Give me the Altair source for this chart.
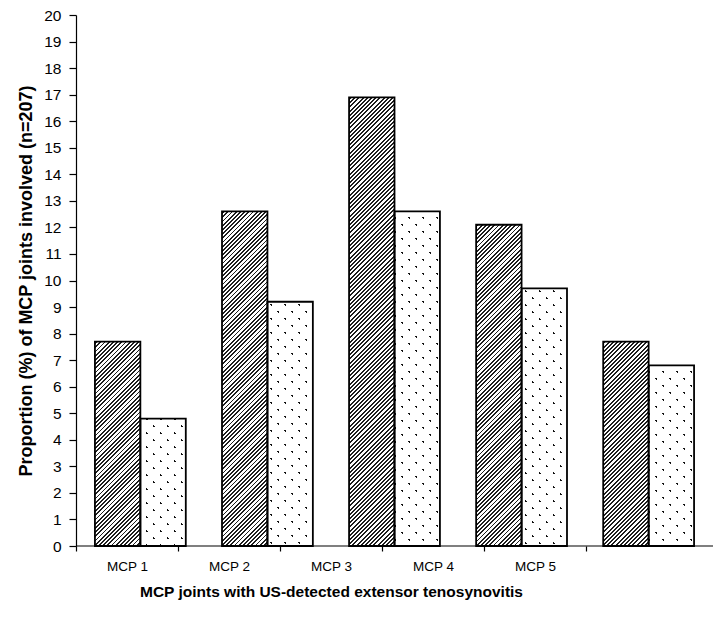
import altair as alt

# Proportion (%) of the 207 MCP joints involved, per joint and per group
categories = ["MCP 1", "MCP 2", "MCP 3", "MCP 4", "MCP 5"]
group_names = ["group 1", "group 2"]
values_group1 = [7.7, 12.6, 16.9, 12.1, 7.7]
values_group2 = [4.8, 9.2, 12.6, 9.7, 6.8]
y_ticks = list(range(0, 21))

# plot geometry (pixels) and band layout
W, H = 637, 531
Y_MAX = 20
PAD_INNER, PAD_OUTER = 0.285, 0.149
step = W / (len(categories) - PAD_INNER + 2 * PAD_OUTER)
bar_w = step * (1 - PAD_INNER) / 2

CLEAR = "rgba(255,255,255,0)"
FONT = "Liberation Sans, Arial, sans-serif"


def diagonal_stripes(w, h, period, width, ink, paper, rising=True):
    """Linear gradient painting 45-degree stripes inside a w x h box.

    The gradient vector is stretched by the box aspect ratio so the stripes
    stay at 45 degrees whatever the bar height.
    """
    span = w + h
    a = span / (w * w + h * h)
    if rising:  # "/" stripes, constant along x + y
        x1, y1, x2, y2 = 0, 0, a * w, a * h
    else:  # "\" stripes, constant along x - y
        x1, y1, x2, y2 = 0, 1, a * w, 1 - a * h
    stops = []
    pos = period / 2
    while pos < span:
        s = max(0.0, (pos - width / 2) / span)
        e = min(1.0, (pos + width / 2) / span)
        stops += [
            {"offset": s, "color": paper},
            {"offset": s, "color": ink},
            {"offset": e, "color": ink},
            {"offset": e, "color": paper},
        ]
        pos += period
    if not stops or stops[0]["offset"] > 0:
        stops.insert(0, {"offset": 0, "color": paper})
    stops.append({"offset": 1, "color": paper})
    return {"gradient": "linear", "x1": x1, "y1": y1, "x2": x2, "y2": y2,
            "stops": stops}


rows = []
for i, joint in enumerate(categories):
    for name, vals in zip(group_names, [values_group1, values_group2]):
        v = vals[i]
        h = max(v / Y_MAX * H, 1.0)
        row = {"joint": joint, "group": name, "value": v}
        if name == group_names[0]:
            # hatched fill
            row["base"] = diagonal_stripes(bar_w, h, 4.2, 1.9, "#1e1e1e", "white")
        else:
            # dotted fill: one set of thin "/" lines, masked by white with
            # narrow "\" gaps, leaves a staggered grid of dots
            row["base"] = diagonal_stripes(bar_w, h, 14.0, 2.7, "#111111", "white")
            row["mask"] = diagonal_stripes(bar_w, h, 14.0, 2.7, CLEAR, "white",
                                           rising=False)
        rows.append(row)

data = alt.Data(values=rows)

x_bars = alt.X("joint:N", sort=categories, axis=None,
               scale=alt.Scale(paddingInner=PAD_INNER, paddingOuter=PAD_OUTER))
x_off = alt.XOffset("group:N", sort=group_names,
                    scale=alt.Scale(paddingInner=0, paddingOuter=0))
y_enc = alt.Y(
    "value:Q",
    stack=None,
    scale=alt.Scale(domain=[0, Y_MAX], nice=False),
    axis=alt.Axis(
        values=y_ticks,
        labelOverlap=False,
        title="Proportion (%) of MCP joints involved (n=207)",
        grid=False,
        domainColor="black",
        domainWidth=1.2,
        tickColor="black",
        tickSize=7,
        tickWidth=1.2,
        labelFont=FONT,
        labelFontSize=15.5,
        labelColor="black",
        labelPadding=8,
        titleFont=FONT,
        titleFontSize=18,
        titleFontWeight="bold",
        titleColor="black",
        titlePadding=8,
    ),
)

base = alt.Chart(data)

bars_fill = base.mark_bar(strokeWidth=0).encode(
    x=x_bars, xOffset=x_off, y=y_enc,
    fill=alt.Fill("base:N", scale=None),
)

dots_mask = base.transform_filter(
    alt.datum.group == group_names[1]
).mark_bar(strokeWidth=0).encode(
    x=x_bars, xOffset=x_off, y=y_enc,
    fill=alt.Fill("mask:N", scale=None),
)

bars_outline = base.mark_bar(
    fillOpacity=0, stroke="black", strokeWidth=1.8
).encode(x=x_bars, xOffset=x_off, y=y_enc)

baseline = alt.Chart(alt.Data(values=[{"value": 0}])).mark_rule(
    color="black", strokeWidth=1.2
).encode(y=y_enc)

# category axis with its own, narrower band scale
joint_axis = base.mark_bar(opacity=0).encode(
    x=alt.X(
        "joint:N",
        sort=categories,
        scale=alt.Scale(range=[0, 510], paddingInner=0, paddingOuter=0),
        axis=alt.Axis(
            title="MCP joints with US-detected extensor tenosynovitis",
            domain=False,
            tickBand="extent",
            tickColor="black",
            tickSize=5,
            tickWidth=1.2,
            labelAngle=0,
            labelFont=FONT,
            labelFontSize=13.5,
            labelColor="black",
            labelPadding=8,
            titleFont=FONT,
            titleFontSize=15.5,
            titleFontWeight="bold",
            titleColor="black",
            titlePadding=12,
        ),
    )
)

bars = alt.layer(bars_fill, dots_mask, bars_outline, baseline)

chart = alt.layer(bars, joint_axis).resolve_scale(x="independent").properties(
    width=W,
    height=H,
    autosize=alt.AutoSizeParams(type="none"),
    padding={"left": 76, "top": 15, "right": 0, "bottom": 71},
    background="white",
).configure_view(stroke=None)

chart.save("out.html", embed_options={"renderer": "svg", "actions": False})
